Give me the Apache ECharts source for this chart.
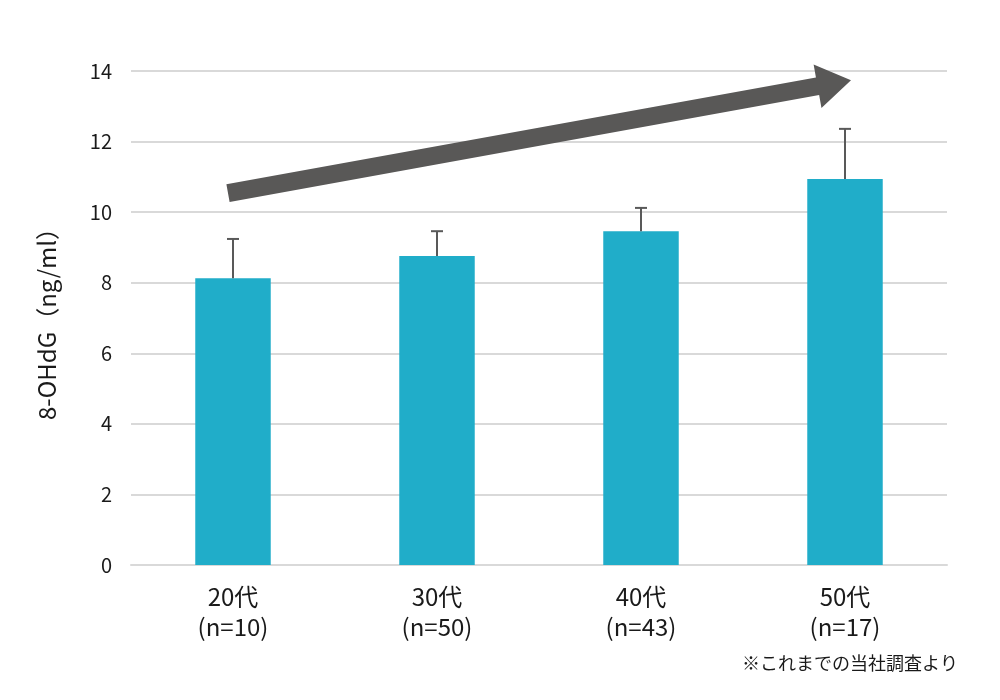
<!DOCTYPE html>
<html><head><meta charset="utf-8">
<script src="https://cdn.jsdelivr.net/npm/echarts@6/dist/echarts.min.js"></script>
<style>html,body{margin:0;padding:0;background:#fff}#c{width:1000px;height:700px}</style>
</head><body><div id="c"></div>
<script>
const categories = ['20代\n(n=10)', '30代\n(n=50)', '40代\n(n=43)', '50代\n(n=17)'];
const means = [8.13, 8.76, 9.46, 10.94];
const errors = [1.11, 0.70, 0.66, 1.42];
const yTicks = {min: 0, max: 14, interval: 2};
const arrowFrom = [0, 10.54];   // [category index, value] annotation anchor
const arrowTo = [3, 13.74];
const FONT = '"Noto Sans CJK JP", "Noto Sans", sans-serif';

const chart = echarts.init(document.getElementById('c'));
const option = {
  animation: false,
  backgroundColor: '#fff',
  grid: {left: 131, right: 53, top: 71, bottom: 135},
  xAxis: {
    type: 'category', data: categories,
    axisLine: {show: true, lineStyle: {color: '#d9d9d9', width: 2}},
    axisTick: {show: false},
    axisLabel: {color: '#1a1a1a', fontSize: 24, fontFamily: FONT, margin: 17, lineHeight: 30}
  },
  yAxis: {
    type: 'value', min: yTicks.min, max: yTicks.max, interval: yTicks.interval,
    name: '8-OHdG（ng/ml）', nameLocation: 'middle', nameGap: 72, nameRotate: 90,
    nameTextStyle: {color: '#1a1a1a', fontSize: 24, fontFamily: FONT},
    axisLine: {show: false}, axisTick: {show: false},
    axisLabel: {color: '#1a1a1a', fontSize: 20, fontFamily: FONT, margin: 19},
    splitLine: {lineStyle: {color: '#d9d9d9', width: 2}}
  },
  series: [
    {type: 'bar', data: means, barWidth: '37%', itemStyle: {color: '#20adc9'}, z: 2},
    {
      type: 'custom', z: 3,
      data: means.map((m, i) => [i, m, m + errors[i]]),
      renderItem: function (params, api) {
        const p0 = api.coord([api.value(0), api.value(1)]);
        const p1 = api.coord([api.value(0), api.value(2)]);
        const style = {stroke: '#595959', lineWidth: 2};
        return {type: 'group', children: [
          {type: 'line', shape: {x1: p0[0], y1: p0[1], x2: p1[0], y2: p1[1]}, style: style},
          {type: 'line', shape: {x1: p1[0] - 6, y1: p1[1], x2: p1[0] + 6, y2: p1[1]}, style: style}
        ]};
      }
    }
  ],
  graphic: [{
    type: 'text', right: 42, top: 654,
    style: {text: '※これまでの当社調査より', fill: '#1a1a1a', fontSize: 18, fontFamily: FONT}
  }]
};
chart.setOption(option);

function drawArrow() {
  const a = chart.convertToPixel({gridIndex: 0}, arrowFrom);
  const b = chart.convertToPixel({gridIndex: 0}, arrowTo);
  const ax = a[0] - 5, ay = a[1], bx = b[0] + 6, by = b[1];
  const dx = bx - ax, dy = by - ay, L = Math.hypot(dx, dy);
  const ux = dx / L, uy = dy / L, px = -uy, py = ux;
  const hw = 9, headHW = 22, headL = 34;
  const hx = bx - ux * headL, hy = by - uy * headL;
  const pts = [
    [ax + px * hw, ay + py * hw],
    [hx + px * hw, hy + py * hw],
    [hx + px * headHW, hy + py * headHW],
    [bx, by],
    [hx - px * headHW, hy - py * headHW],
    [hx - px * hw, hy - py * hw],
    [ax - px * hw, ay - py * hw]
  ];
  chart.setOption({graphic: [option.graphic[0], {
    type: 'polygon', z: 10, shape: {points: pts}, style: {fill: '#595857'}
  }]});
}
drawArrow();
</script></body></html>
